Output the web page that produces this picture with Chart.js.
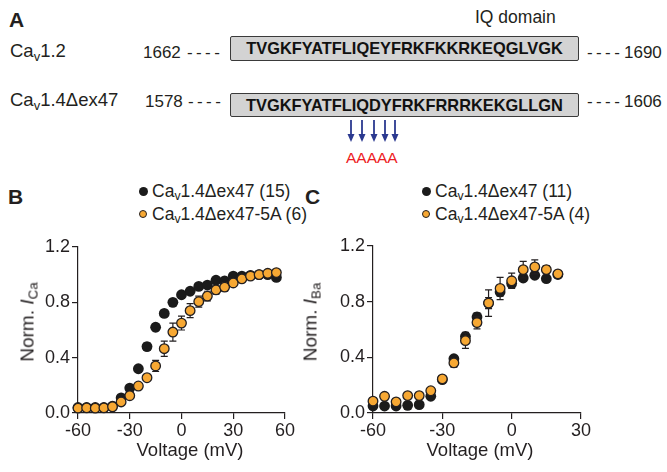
<!DOCTYPE html>
<html>
<head>
<meta charset="utf-8">
<script src="https://cdn.jsdelivr.net/npm/chart.js@4.4.1/dist/chart.umd.min.js"></script>
<style>
  html, body { margin:0; padding:0; background:#fff; }
  #wrap { position:relative; width:667px; height:472px; overflow:hidden; font-family:'Liberation Sans', Arial, sans-serif; color:#231f20; }
  .t { position:absolute; line-height:1; white-space:nowrap; }
  .t sub { font-size:0.7em; line-height:0; vertical-align:-0.28em; }
  .box { position:absolute; background:#d3d3d3; border:1px solid #3a3a3a; border-radius:2px; box-sizing:border-box;
         display:flex; align-items:center; justify-content:center; font-weight:bold; font-size:16.4px; color:#111; }
  .dash { letter-spacing:3.4px; }
  .dot { position:absolute; border-radius:50%; box-sizing:border-box; }
  canvas { position:absolute; }
  .rot { position:absolute; line-height:1; white-space:nowrap; transform:translate(-50%,-50%) rotate(-90deg); }
  .rot sub { font-size:0.7em; line-height:0; vertical-align:-0.28em; }
</style>
</head>
<body>
<div id="wrap">
  <!-- Panel A -->
  <div class="t" style="left:9px; top:9px; font-size:21px; font-weight:bold;">A</div>
  <div class="t" style="left:475px; top:9px; font-size:17.5px;">IQ domain</div>

  <div class="t" style="left:10px; top:42.3px; font-size:18.5px;">Ca<sub>v</sub>1.2</div>
  <div class="t" style="left:143px; top:43.6px; font-size:17px;">1662</div>
  <div class="t dash" style="left:187px; top:43.6px; font-size:17px;">----</div>
  <div class="box" style="left:230px; top:36px; width:349px; height:25px;">TVGKFYATFLIQEYFRKFKKRKEQGLVGK</div>
  <div class="t dash" style="left:587px; top:43.6px; font-size:17px;">----</div>
  <div class="t" style="left:624px; top:43.6px; font-size:17px;">1690</div>

  <div class="t" style="left:10px; top:91.3px; font-size:18.5px;">Ca<sub>v</sub>1.4Δex47</div>
  <div class="t" style="left:145px; top:92.6px; font-size:17px;">1578</div>
  <div class="t dash" style="left:188px; top:92.6px; font-size:17px;">----</div>
  <div class="box" style="left:230px; top:93px; width:349px; height:24px;">TVGKFYATFLIQDYFRKFRRRKEKGLLGN</div>
  <div class="t dash" style="left:587px; top:92.6px; font-size:17px;">----</div>
  <div class="t" style="left:624px; top:92.6px; font-size:17px;">1606</div>

  <svg style="position:absolute; left:0; top:0;" width="667" height="160">
    <g stroke="#2b3990" stroke-width="1.8" fill="#2b3990">
      <line x1="351" y1="120" x2="351" y2="136"/><polygon points="347.5,134 354.5,134 351,142" stroke="none"/>
      <line x1="362" y1="120" x2="362" y2="136"/><polygon points="358.5,134 365.5,134 362,142" stroke="none"/>
      <line x1="374" y1="120" x2="374" y2="136"/><polygon points="370.5,134 377.5,134 374,142" stroke="none"/>
      <line x1="385" y1="120" x2="385" y2="136"/><polygon points="381.5,134 388.5,134 385,142" stroke="none"/>
      <line x1="395" y1="120" x2="395" y2="136"/><polygon points="391.5,134 398.5,134 395,142" stroke="none"/>
    </g>
  </svg>
  <div class="t" style="left:346px; top:150px; font-size:15.5px; color:#ed1c24;">AAAAA</div>

  <!-- Panel B / C headers and legends -->
  <div class="t" style="left:8px; top:186px; font-size:21px; font-weight:bold;">B</div>
  <div class="t" style="left:305px; top:186px; font-size:21px; font-weight:bold;">C</div>

  <div class="dot" style="left:138.5px; top:186.5px; width:9px; height:9px; background:#1b1b1b;"></div>
  <div class="t" style="left:152px; top:182.8px; font-size:17.5px;">Ca<sub>v</sub>1.4Δex47 (15)</div>
  <div class="dot" style="left:138.8px; top:209.8px; width:8.5px; height:8.5px; background:#f7a833; border:1px solid #231f20;"></div>
  <div class="t" style="left:152px; top:205.8px; font-size:17.5px;">Ca<sub>v</sub>1.4Δex47-5A (6)</div>

  <div class="dot" style="left:421.5px; top:186.5px; width:9px; height:9px; background:#1b1b1b;"></div>
  <div class="t" style="left:435px; top:182.8px; font-size:17.5px;">Ca<sub>v</sub>1.4Δex47 (11)</div>
  <div class="dot" style="left:421.8px; top:209.8px; width:8.5px; height:8.5px; background:#f7a833; border:1px solid #231f20;"></div>
  <div class="t" style="left:435px; top:205.8px; font-size:17.5px;">Ca<sub>v</sub>1.4Δex47-5A (4)</div>

  <canvas id="cB" width="330" height="242" style="left:0px; top:230px;"></canvas>
  <canvas id="cC" width="372" height="242" style="left:295px; top:230px;"></canvas>

  <div class="rot" style="left:27px; top:322px; font-size:19px;">Norm. <i>I</i><sub>Ca</sub></div>
  <div class="rot" style="left:310px; top:322px; font-size:19px;">Norm. <i>I</i><sub>Ba</sub></div>
  <div class="t" style="left:190px; top:441px; font-size:18.5px; transform:translateX(-50%);">Voltage (mV)</div>
  <div class="t" style="left:480px; top:441px; font-size:18.5px; transform:translateX(-50%);">Voltage (mV)</div>
</div>

<script>
// ---------- Data ----------
const voltagesB = [-60,-55,-50,-45,-40,-35,-30,-25,-20,-15,-10,-5,0,5,10,15,20,25,30,35,40,45,50,55];
const ex47_B    = [0.04,0.04,0.04,0.04,0.05,0.11,0.18,0.32,0.48,0.62,0.72,0.80,0.855,0.88,0.915,0.925,0.96,0.955,0.99,0.99,0.995,1.0,1.0,0.98];
const ex47err_B = [0.01,0.01,0.01,0.01,0.01,0.015,0.02,0.02,0.025,0.025,0.02,0.02,0.02,0.02,0.015,0.015,0.01,0.01,0.01,0.01,0.01,0.01,0.01,0.01];
const ex47_5A_B    = [0.035,0.037,0.035,0.037,0.045,0.08,0.125,0.195,0.255,0.34,0.465,0.585,0.65,0.74,0.805,0.845,0.89,0.91,0.94,0.97,0.99,1.0,1.01,1.015];
const ex47_5Aerr_B = [0.01,0.01,0.01,0.01,0.01,0.015,0.015,0.02,0.02,0.04,0.055,0.065,0.05,0.05,0.04,0.035,0.03,0.03,0.02,0.015,0.01,0.01,0.01,0.01];

const voltagesC = [-60,-55,-50,-45,-40,-35,-30,-25,-20,-15,-10,-5,0,5,10,15,20];
const ex47_C    = [0.05,0.05,0.05,0.055,0.06,0.12,0.24,0.39,0.55,0.69,0.79,0.87,0.93,0.97,0.99,0.965,0.995];
const ex47err_C = [0.01,0.01,0.01,0.01,0.01,0.015,0.02,0.02,0.03,0.03,0.04,0.03,0.02,0.02,0.02,0.02,0.01];
const ex47_5A_C    = [0.085,0.12,0.08,0.125,0.125,0.16,0.245,0.36,0.52,0.65,0.79,0.895,0.95,1.03,1.05,1.03,1.0];
const ex47_5Aerr_C = [0.01,0.01,0.01,0.01,0.01,0.01,0.015,0.03,0.055,0.045,0.095,0.08,0.055,0.06,0.05,0.03,0.01];

const yTicks = [0, 0.4, 0.8, 1.2];
const xTicksB = [-60, -30, 0, 30, 60];
const xTicksC = [-60, -30, 0, 30];

// ---------- Chart setup ----------
const FONT = "'Liberation Sans', Arial, sans-serif";
Chart.defaults.font.family = FONT;
Chart.defaults.color = '#231f20';

const errorBars = {
  id: 'errorBars',
  beforeDatasetDraw(chart, args) {
    const ds = chart.data.datasets[args.index];
    if (!ds.errors) return;
    const xs = chart.scales.x, ys = chart.scales.y, ctx = chart.ctx;
    ctx.save();
    ctx.strokeStyle = '#231f20';
    ctx.lineWidth = 1.2;
    ds.data.forEach((p, i) => {
      const e = ds.errors[i];
      const x = xs.getPixelForValue(p.x);
      const y1 = ys.getPixelForValue(p.y + e);
      const y2 = ys.getPixelForValue(p.y - e);
      ctx.beginPath();
      ctx.moveTo(x, y1); ctx.lineTo(x, y2);
      ctx.moveTo(x - 3.5, y1); ctx.lineTo(x + 3.5, y1);
      ctx.moveTo(x - 3.5, y2); ctx.lineTo(x + 3.5, y2);
      ctx.stroke();
    });
    ctx.restore();
  }
};

function pts(xs, ys) { return xs.map((v, i) => ({ x: v, y: ys[i] })); }

function makeChart(id, volts, blk, blkErr, org, orgErr, xmin, xmax, xTicks, pad) {
  return new Chart(document.getElementById(id), {
    type: 'scatter',
    data: {
      datasets: [
        { data: pts(volts, blk), errors: blkErr, order: 1, clip: false,
          pointRadius: 5.4, pointBackgroundColor: '#1b1b1b', pointBorderColor: '#1b1b1b', pointBorderWidth: 0 },
        { data: pts(volts, org), errors: orgErr, order: 0, clip: false,
          pointRadius: 4.8, pointBackgroundColor: '#f7a833', pointBorderColor: '#231f20', pointBorderWidth: 1.3 }
      ]
    },
    options: {
      responsive: false, animation: false, devicePixelRatio: 1,
      layout: { padding: pad },
      plugins: { legend: { display: false }, tooltip: { enabled: false } },
      scales: {
        x: {
          type: 'linear', min: xmin, max: xmax,
          afterBuildTicks: s => { s.ticks = xTicks.map(v => ({ value: v })); },
          afterFit: s => { s.height = 59; },
          ticks: { font: { size: 18 }, padding: 1, color: '#231f20', maxRotation: 0 },
          grid: { drawOnChartArea: false, drawTicks: true, tickLength: 6, color: '#231f20', lineWidth: 1.2 },
          border: { display: true, color: '#231f20', width: 1.2 }
        },
        y: {
          type: 'linear', min: 0, max: 1.2,
          afterBuildTicks: s => { s.ticks = yTicks.map(v => ({ value: v })); },
          afterFit: s => { s.width = 78; },
          ticks: { font: { size: 18 }, padding: 2, color: '#231f20', callback: v => Number(v).toFixed(1) },
          grid: { drawOnChartArea: false, drawTicks: true, tickLength: 6, color: '#231f20', lineWidth: 1.2 },
          border: { display: true, color: '#231f20', width: 1.2 }
        }
      }
    },
    plugins: [errorBars]
  });
}

makeChart('cB', voltagesB, ex47_B, ex47err_B, ex47_5A_B, ex47_5Aerr_B, -60, 60, xTicksB, { left: 0, top: 17, right: 45, bottom: 0 });
makeChart('cC', voltagesC, ex47_C, ex47err_C, ex47_5A_C, ex47_5Aerr_C, -60, 30, xTicksC, { left: 0, top: 16, right: 86, bottom: 0 });
</script>
</body>
</html>
